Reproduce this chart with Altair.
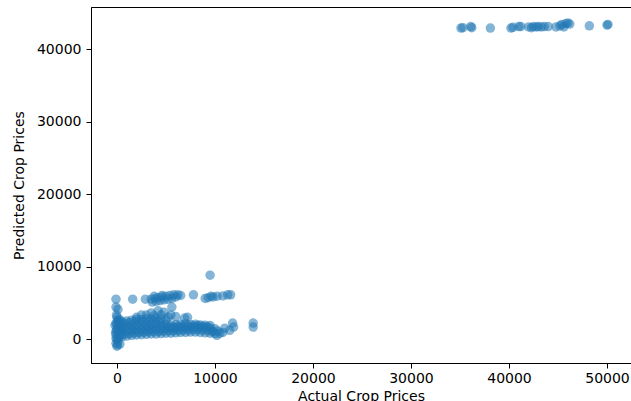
import altair as alt
import pandas as pd

# Upper cluster (actual, predicted)
high_actual = [35100, 35300, 36100, 36200, 38100, 40200, 40400, 41000, 41200, 42000,
               42300, 42500, 42800, 43000, 43300, 43600, 44000, 44800, 45200, 45400,
               45600, 45800, 46000, 46200, 48200, 50100, 50000]
high_pred = [42900, 42950, 43100, 42950, 42900, 42900, 43000, 43100, 43100, 43050,
             42950, 43100, 43050, 43100, 43050, 43100, 43100, 43050, 43200, 43400,
             43050, 43500, 43600, 43450, 43200, 43400, 43300]

# Left column near zero actual price
col_actual = [0, -100, 100, 0, 200, -100, 100, 0, 200, -100, 100, 0, -50, 300,
              -150, 250, 350, 400, -200, 50, 150, -50, 250, 100, 0, 300, -100]
col_pred = [-1000, -600, -300, 0, 300, 600, 1000, 1400, 1800, 2200, 2600, 3000, 3300, -700,
            900, 2700, 600, 1500, 1900, -800, 200, 1200, 1100, 2400, 2000, 2300, 100]

# Lower dense band
band_actual = [500, 1000, 1500, 2000, 2500, 3000, 3500, 4000, 4500, 5000, 5500, 6000, 6500,
               7000, 7500, 8000, 8500, 9000, 9500, 10000, 10500,
               500, 1000, 1500, 2000, 2500, 3000, 3500, 4000, 4500, 5000, 5500, 6000, 6500,
               7000, 7500, 8000, 8500, 9000, 9500, 10000,
               500, 1000, 1500, 2000, 2500, 3000, 3500, 4000, 4500, 5000, 5500, 6000, 6500,
               7000, 7500, 8000, 8500, 9000, 9500,
               500, 1000, 1500, 2000, 2500, 3000, 3500, 4000, 4500, 5000, 6900, 7200,
               2000, 2500, 3000, 3500, 4200, 4800, 5500, 6000,
               11800, 11900, 13900, 13900, 11500, 10800, 10200, 11000,
               750, 1250, 1750, 2250, 2750, 3250, 3750, 4250, 4750, 5250, 5750, 6250, 6750,
               7250, 7750, 8250, 8750, 9250, 9750,
               750, 1250, 1750, 2250, 2750, 3250, 3750, 4250, 4750, 5250, 5750, 6250, 6750,
               7250, 7750, 8250, 8750, 9250,
               750, 1250, 1750, 2250, 2750, 3250, 3750, 4250,
               3800, 4500, 5200, 9800, 10300]
band_pred = [300, 400, 500, 550, 600, 650, 700, 700, 750, 800, 800, 850, 900,
             900, 950, 950, 900, 850, 800, 750, 800,
             1000, 1100, 1200, 1200, 1300, 1300, 1350, 1400, 1400, 1450, 1500, 1500, 1550,
             1600, 1600, 1650, 1600, 1550, 1500, 1400,
             1700, 1800, 1900, 1900, 2000, 2000, 2050, 2100, 2100, 2000, 1950, 2000, 2050,
             2100, 2000, 2050, 1950, 1900, 1850,
             2400, 2500, 2600, 2700, 2700, 2800, 2800, 2900, 2750, 2600, 2900, 3000,
             3000, 3300, 3300, 3600, 3900, 3700, 3300, 3100,
             2200, 1650, 2200, 1650, 1200, 900, 500, 1500,
             650, 750, 850, 900, 950, 1000, 1050, 1050, 1100, 1150, 1150, 1200, 1250,
             1250, 1300, 1300, 1250, 1200, 1100,
             1450, 1500, 1550, 1600, 1650, 1650, 1700, 1750, 1750, 1700, 1700, 1750, 1800,
             1800, 1800, 1850, 1750, 1700,
             2150, 2250, 2350, 2450, 2400, 2500, 2500, 2550,
             3200, 3300, 3000, 1000, 1100]

# Upper band around 5500-6200 predicted
mid_actual = [-100, 1600, 2900, 3500, 3800, 4200, 4600, 5000, 5400, 5800, 6200, 6500,
              4000, 3600, 4800, 5600, 7800, 9000, 9300, 9800, 10200, 10800, 11300, 11600,
              9600, 5600, 9500, -100, 100, 4400, 5200, 6000, 4600, 3900]
mid_pred = [5500, 5500, 5500, 5500, 5900, 5700, 5800, 5900, 6000, 6100, 6100, 6000,
            5200, 5100, 5400, 5600, 6100, 5600, 5700, 5800, 5900, 5950, 6100, 6100,
            5900, 4400, 8800, 4400, 4100, 5300, 5500, 5800, 6000, 5600]

actual = high_actual + col_actual + band_actual + mid_actual
pred = high_pred + col_pred + band_pred + mid_pred
df = pd.DataFrame({"actual": actual, "pred": pred})

x_ticks = [0, 10000, 20000, 30000, 40000, 50000]
y_ticks = [0, 10000, 20000, 30000, 40000]

font = "DejaVu Sans"

chart = alt.Chart(df).mark_circle(size=90, opacity=0.55, color="#1f77b4").encode(
    x=alt.X("actual:Q", title="Actual Crop Prices",
            scale=alt.Scale(domain=[-2650, 52450], nice=False, zero=False),
            axis=alt.Axis(values=x_ticks, grid=False, format="d", tickSize=5,
                          tickColor="black", domainColor="black", labelColor="black",
                          titleColor="black", labelFont=font, titleFont=font,
                          labelFontSize=14, titleFontSize=14, labelPadding=3,
                          titlePadding=4, titleFontWeight="normal", labelFlush=False)),
    y=alt.Y("pred:Q", title="Predicted Crop Prices",
            scale=alt.Scale(domain=[-3310, 45800], nice=False, zero=False),
            axis=alt.Axis(values=y_ticks, grid=False, format="d", tickSize=5,
                          tickColor="black", domainColor="black", labelColor="black",
                          titleColor="black", labelFont=font, titleFont=font,
                          labelFontSize=14, titleFontSize=14, labelPadding=5,
                          titlePadding=10, titleFontWeight="normal", labelFlush=False)),
).properties(
    width=540, height=356,
    autosize=alt.AutoSizeParams(type="none"),
    padding={"left": 91, "top": 7, "right": 0, "bottom": 38},
).configure_view(stroke="black", strokeWidth=1)

chart.save("out.html", embed_options={"renderer": "svg", "actions": False})
